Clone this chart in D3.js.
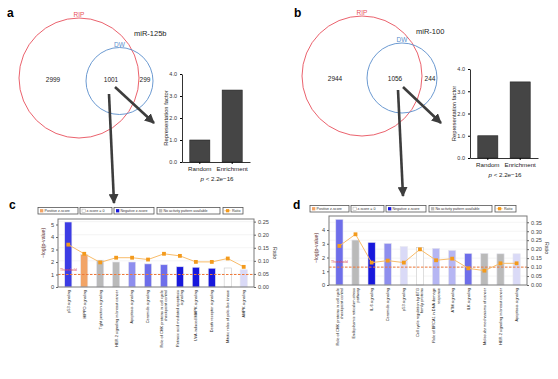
<!DOCTYPE html>
<html>
<head>
<meta charset="utf-8">
<script src="https://cdn.jsdelivr.net/npm/d3@7"></script>
<style>
body { margin: 0; background: #fff; }
svg { font-family: "Liberation Sans", Arial, sans-serif; }
</style>
</head>
<body>
<div id="fig"></div>
<script>
const W = 558, H = 379;

// venn counts: RIP only, overlap, DW only
const vennA = [2999, 1001, 299];
const vennB = [2944, 1056, 244];

// representation factor insets
const insetCats = ["Random", "Enrichment"];
const insetA = [1, 3.27];
const insetB = [1, 3.42];
const insetTicks = [0, 1, 2, 3, 4];

// pathway panel c (miR-125b)
const namesC = ["p53 signaling", "HIPPO signaling", "Tight junction signaling",
  "HER-2 signaling in breast cancer", "Apoptosis signaling", "Ceramide signaling",
  "Role of CHK proteins in cell cycle|checkpoint control",
  "Retinoic acid mediated apoptosis|signaling", "UVA-induced MAPK signaling",
  "Death receptor signaling", "Mitotic roles of polo-like kinase", "AMPK signaling"];
const pvalC = [5.2, 2.6, 2.15, 2.0, 2.0, 1.85, 1.78, 1.62, 1.58, 1.5, 1.52, 1.38];
const ratioC = [0.162, 0.127, 0.094, 0.112, 0.112, 0.105, 0.127, 0.119, 0.096, 0.096, 0.109, 0.077];
const zC = ["n4", "pos", "na", "na", "n2", "n3", "n3", "n5", "n5", "n5", "zero", "n0"];
const pTicksC = [0, 1, 2, 3, 4, 5];
const rTicksC = [0, 0.05, 0.10, 0.15, 0.20, 0.25];

// pathway panel d (miR-100)
const namesD = ["Role of CHK proteins in cell cycle|checkpoint control",
  "Endoplasmic reticulum stress|pathway", "IL-6 signaling", "Ceramide signaling",
  "p53 signaling", "Cell cycle regulation by BTG|family proteins",
  "Role of BRCA1 in DNA damage|response", "ATM signaling", "ILK signaling",
  "Molecular mechanisms of cancer", "HER-2 signaling in breast cancer", "Apoptosis signaling"];
const pvalD = [4.78, 3.27, 3.1, 3.03, 2.79, 2.74, 2.67, 2.52, 2.3, 2.3, 2.27, 2.27];
const ratioD = [0.218, 0.283, 0.125, 0.136, 0.125, 0.199, 0.138, 0.147, 0.093, 0.080, 0.121, 0.121];
const zD = ["n3", "na", "n5", "n2", "n0", "zero", "n1", "n1", "n3", "na", "na", "n0"];
const pTicksD = [0, 1, 2, 3, 4];
const rTicksD = [0, 0.05, 0.10, 0.15, 0.20, 0.25, 0.30, 0.35];

const legendItems = ["Positive z-score", "z-score = 0", "Negative z-score", "No activity pattern available", "Ratio"];

const Z_COLORS = {
  pos: "#f2a466", zero: "#ffffff", na: "#bababa",
  n5: "#1818dc", n4: "#3c3ce4", n3: "#6e6eea", n2: "#8e8eee", n1: "#b6b6f3", n0: "#dadaf7"
};

const svg = d3.select("#fig").append("svg")
  .attr("width", W).attr("height", H);

svg.append("defs").append("marker")
  .attr("id", "head")
  .attr("viewBox", "0 0 10 10")
  .attr("refX", 9).attr("refY", 5)
  .attr("markerUnits", "userSpaceOnUse")
  .attr("markerWidth", 10).attr("markerHeight", 10)
  .attr("orient", "auto")
  .append("path").attr("d", "M0,0 L10,5 L0,10 Z").attr("fill", "#3d3d3d");

function panelLabel(txt, x, y) {
  svg.append("text").attr("x", x).attr("y", y)
    .attr("font-size", 12).attr("font-weight", "bold").text(txt);
}

//venn diagram with labels
function venn(cfg, counts) {
  const g = svg.append("g");
  g.append("circle").attr("cx", cfg.rip[0]).attr("cy", cfg.rip[1]).attr("r", cfg.rip[2])
    .attr("fill", "none").attr("stroke", "#e8505c").attr("stroke-width", 0.9);
  g.append("circle").attr("cx", cfg.dw[0]).attr("cy", cfg.dw[1]).attr("r", cfg.dw[2])
    .attr("fill", "none").attr("stroke", "#5b8fcc").attr("stroke-width", 0.9);
  g.append("text").attr("x", cfg.rip[0]).attr("y", cfg.rip[1] - cfg.rip[2] - 1)
    .attr("text-anchor", "middle").attr("font-size", 6.5).attr("fill", "#e8505c").text("RIP");
  g.append("text").attr("x", cfg.dw[0]).attr("y", cfg.dw[1] - cfg.dw[2] - 1)
    .attr("text-anchor", "middle").attr("font-size", 6.5).attr("fill", "#5b8fcc").text("DW");
  g.append("text").attr("x", cfg.mir[0]).attr("y", cfg.mir[1])
    .attr("font-size", 7.5).attr("fill", "#222").text(cfg.name);
  counts.forEach((c, i) => {
    g.append("text").attr("x", cfg.nx[i]).attr("y", cfg.ny)
      .attr("text-anchor", "middle").attr("font-size", 6.5).attr("fill", "#222").text(c);
  });
}

//small bar chart of representation factor
function inset(cfg, values) {
  const g = svg.append("g");
  const x = d3.scaleBand().domain(insetCats).range([cfg.x0, cfg.x1])
    .paddingInner(0.38).paddingOuter(0.24);
  const y = d3.scaleLinear().domain([0, 4]).range([cfg.y0, cfg.y1]);

  g.selectAll("rect").data(insetCats).join("rect")
    .attr("x", d => x(d)).attr("width", x.bandwidth())
    .attr("y", (d, i) => y(values[i]))
    .attr("height", (d, i) => cfg.y0 - y(values[i]))
    .attr("fill", "#454545").attr("stroke", "#222").attr("stroke-width", 0.6);

  const ya = g.append("g").attr("transform", "translate(" + cfg.x0 + ",0)")
    .call(d3.axisLeft(y).tickValues(insetTicks).tickSize(2).tickSizeOuter(0));
  ya.selectAll("text").attr("font-size", 5.5).attr("fill", "#333");

  const xa = g.append("g").attr("transform", "translate(0," + cfg.y0 + ")")
    .call(d3.axisBottom(x).tickSize(2).tickPadding(3).tickSizeOuter(0));
  xa.selectAll("text").attr("font-size", 6.2).attr("fill", "#222");
  g.selectAll(".domain").attr("stroke-width", 0.8);

  g.append("text")
    .attr("transform", "translate(" + (cfg.x0 - 14) + "," + ((cfg.y0 + cfg.y1) / 2) + ") rotate(-90)")
    .attr("text-anchor", "middle").attr("font-size", 5.8).attr("fill", "#222")
    .text("Representation factor");

  const p = g.append("text").attr("x", (cfg.x0 + cfg.x1) / 2 + 1).attr("y", cfg.y0 + 19)
    .attr("text-anchor", "middle").attr("font-size", 6.2).attr("fill", "#222");
  p.append("tspan").attr("font-style", "italic").text("p");
  p.append("tspan").text(" < 2.2e\u221216");
}

function arrow(x1, y1, x2, y2) {
  svg.append("line").attr("x1", x1).attr("y1", y1).attr("x2", x2).attr("y2", y2)
    .attr("stroke", "#3d3d3d").attr("stroke-width", 2.6)
    .attr("marker-end", "url(#head)");
}

//IPA style pathway bar chart with ratio line
function pathway(cfg, names, pval, ratio, zs, pTicks, rTicks) {
  const g = svg.append("g");
  const x = d3.scaleBand().domain(names).range([cfg.left, cfg.right])
    .paddingInner(0.55).paddingOuter(0.42);
  const y = d3.scaleLinear().domain([0, cfg.pMax]).range([cfg.bottom, cfg.top]);
  const y2 = d3.scaleLinear().domain([0, cfg.rMax]).range([cfg.bottom, cfg.top]);
  const cx = d => x(d) + x.bandwidth() / 2;

  // legend
  const lg = g.append("g");
  legendItems.forEach((lab, i) => {
    const bx = cfg.legend[i];
    lg.append("rect").attr("x", bx[0]).attr("y", cfg.legY).attr("width", bx[1] - bx[0]).attr("height", 6.5)
      .attr("fill", "#fff").attr("stroke", "#555").attr("stroke-width", 0.8);
    if (i < 4) {
      const key = ["pos", "zero", "n5", "na"][i];
      lg.append("rect").attr("x", bx[0] + 2).attr("y", cfg.legY + 1.6).attr("width", 3.3).attr("height", 3.3)
        .attr("fill", Z_COLORS[key]).attr("stroke", i == 1 ? "#999" : "none").attr("stroke-width", 0.4);
      lg.append("text").attr("x", bx[0] + 6.5).attr("y", cfg.legY + 4.7)
        .attr("font-size", 3.6).attr("fill", "#333").text(lab);
    } else {
      lg.append("line").attr("x1", bx[0] + 1.5).attr("x2", bx[0] + 7.5)
        .attr("y1", cfg.legY + 3.25).attr("y2", cfg.legY + 3.25)
        .attr("stroke", "#f7b45a").attr("stroke-width", 0.8);
      lg.append("rect").attr("x", bx[0] + 3).attr("y", cfg.legY + 1.6).attr("width", 3.2).attr("height", 3.2)
        .attr("fill", "#f39a1c");
      lg.append("text").attr("x", bx[0] + 9).attr("y", cfg.legY + 4.7)
        .attr("font-size", 3.6).attr("fill", "#333").text(lab);
    }
  });

  // faint grid
  g.selectAll(".grid").data(rTicks.slice(1)).join("line")
    .attr("x1", cfg.left).attr("x2", cfg.right)
    .attr("y1", d => y2(d)).attr("y2", d => y2(d))
    .attr("stroke", "#ececec").attr("stroke-width", 0.6);

  // bars
  g.selectAll(".bar").data(names).join("rect")
    .attr("x", d => x(d)).attr("width", x.bandwidth())
    .attr("y", (d, i) => y(pval[i]))
    .attr("height", (d, i) => cfg.bottom - y(pval[i]))
    .attr("fill", (d, i) => Z_COLORS[zs[i]])
    .attr("stroke", (d, i) => zs[i] == "zero" ? "#c8c8c8" : "#e6e6ee")
    .attr("stroke-width", 0.6);

  // threshold
  g.append("line").attr("x1", cfg.left).attr("x2", cfg.right)
    .attr("y1", y(cfg.thr)).attr("y2", y(cfg.thr))
    .attr("stroke", "#ef7a3a").attr("stroke-width", 1).attr("stroke-dasharray", "2.5,1.5");
  g.append("text").attr("x", cfg.left + 2).attr("y", y(cfg.thr) - 4)
    .attr("font-size", 3.8).attr("fill", "#e04848").text("Threshold");

  // ratio line
  g.append("path")
    .attr("d", d3.line().x(d => cx(d)).y((d, i) => y2(ratio[i]))(names))
    .attr("fill", "none").attr("stroke", "#f8bc6a").attr("stroke-width", 1);
  g.selectAll(".pt").data(names).join("rect")
    .attr("x", d => cx(d) - 1.9).attr("width", 3.8)
    .attr("y", (d, i) => y2(ratio[i]) - 1.9).attr("height", 3.8)
    .attr("fill", "#f39a1c");

  // frame
  g.append("rect").attr("x", cfg.left).attr("y", cfg.top)
    .attr("width", cfg.right - cfg.left).attr("height", cfg.bottom - cfg.top)
    .attr("fill", "none").attr("stroke", "#7a7a7a").attr("stroke-width", 1);

  // axes
  const la = g.append("g").attr("transform", "translate(" + cfg.left + ",0)")
    .call(d3.axisLeft(y).tickValues(pTicks).tickFormat(d3.format("d")).tickSize(2).tickPadding(2));
  const ra = g.append("g").attr("transform", "translate(" + cfg.right + ",0)")
    .call(d3.axisRight(y2).tickValues(rTicks).tickFormat(d3.format(".2f")).tickSize(2).tickPadding(2));
  [la, ra].forEach(a => {
    a.select(".domain").remove();
    a.selectAll("line").attr("stroke", "#666");
    a.selectAll("text").attr("font-size", 5.6).attr("fill", "#444");
  });

  g.append("text")
    .attr("transform", "translate(" + cfg.yLab[0] + "," + cfg.yLab[1] + ") rotate(-90)")
    .attr("text-anchor", "middle").attr("font-size", 5.2).attr("fill", "#5a2a2a")
    .text("\u2212log(p-value)");
  g.append("text")
    .attr("transform", "translate(" + cfg.rLab[0] + "," + cfg.rLab[1] + ") rotate(90)")
    .attr("text-anchor", "middle").attr("font-size", 5.2).attr("fill", "#333")
    .text("Ratio");

  // category labels
  names.forEach(nm => {
    const lines = nm.split("|");
    const t = g.append("text")
      .attr("transform", "translate(" + cx(nm) + "," + (cfg.bottom + 3) + ") rotate(-90)")
      .attr("text-anchor", "end").attr("font-size", 3.9).attr("fill", "#222");
    lines.forEach((ln, j) => {
      t.append("tspan").attr("x", 0)
        .attr("dy", j == 0 ? (0.35 - 0.55 * (lines.length - 1)) + "em" : "1.1em")
        .text(ln);
    });
  });
}

panelLabel("a", 7, 17);
panelLabel("b", 294, 17);
panelLabel("c", 9, 209);
panelLabel("d", 293, 209);

venn({ rip: [79, 78, 60], dw: [119.5, 81, 33.5], mir: [134, 36], name: "miR-125b",
       nx: [53, 111, 145], ny: 82 }, vennA);
venn({ rip: [362, 76, 60], dw: [402, 78, 35], mir: [416, 34], name: "miR-100",
       nx: [335, 395, 430], ny: 81 }, vennB);

inset({ x0: 182, x1: 250, y0: 162, y1: 74 }, insetA);
inset({ x0: 470, x1: 538, y0: 158, y1: 69 }, insetB);

arrow(115, 87, 154, 123);
arrow(109, 94, 114, 203);
arrow(403, 87, 441, 123);
arrow(398, 90, 403, 196);

pathway({ left: 58, right: 254, top: 219, bottom: 287, pMax: 5.44, rMax: 0.26, thr: 1.0,
          legY: 207.5, legend: [[38, 78], [80, 112], [114, 154], [157, 220], [223, 243]],
          yLab: [45, 243], rLab: [273, 253] },
        namesC, pvalC, ratioC, zC, pTicksC, rTicksC);

pathway({ left: 329, right: 527, top: 216, bottom: 285, pMax: 5.02, rMax: 0.385, thr: 1.3,
          legY: 205.5, legend: [[310, 349], [351, 384], [386, 426], [429, 492], [495, 516]],
          yLab: [318, 248], rLab: [545, 248] },
        namesD, pvalD, ratioD, zD, pTicksD, rTicksD);
</script>
</body>
</html>
